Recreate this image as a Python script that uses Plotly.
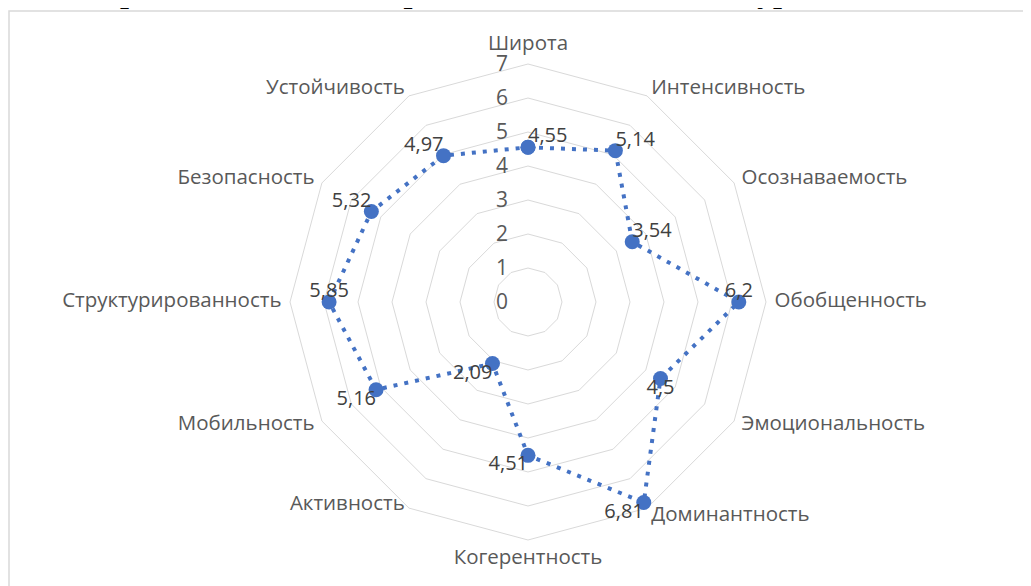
import plotly.graph_objects as go

categories = ["Широта", "Интенсивность", "Осознаваемость", "Обобщенность",
              "Эмоциональность", "Доминантность", "Когерентность", "Активность",
              "Мобильность", "Структурированность", "Безопасность", "Устойчивость"]
values = [4.55, 5.14, 3.54, 6.2, 4.5, 6.81, 4.51, 2.09, 5.16, 5.85, 5.32, 4.97]
label_positions = ["top right", "top right", "top right", "top center",
                   "bottom center", "bottom left", "bottom left", "bottom left",
                   "bottom left", "top center", "top left", "top left"]
category_label_positions = ["top center", "middle right", "middle right", "middle right",
                            "middle right", "middle right", "bottom center", "top left",
                            "middle left", "middle left", "middle left", "middle left"]
radial_ticks = [0, 1, 2, 3, 4, 5, 6, 7]
title_text = "Сравнительный обзор модели и идеального курса"

BLUE = "#4472C4"
GRID = "#d9d9d9"
TXT = "#595959"
FONT = "Open Sans"
LABEL_R = 7.25          # radius where the category names sit (just outside ring 7)

fig = go.Figure()

fig.add_trace(go.Scatterpolar(
    r=values + values[:1],
    theta=categories + categories[:1],
    mode="lines+markers",
    line=dict(color=BLUE, width=4, dash="4px,7px"),
    marker=dict(color=BLUE, size=15),
    hoverinfo="skip",
    showlegend=False,
))

fig.add_trace(go.Scatterpolar(
    r=values,
    theta=categories,
    mode="text",
    text=[f"{v:g}".replace(".", ",") for v in values],
    textposition=label_positions,
    textfont=dict(family=FONT, size=20, color="#404040"),
    hoverinfo="skip",
    showlegend=False,
))

# category labels placed like Excel does (beside the outer ring vertices)
fig.add_trace(go.Scatterpolar(
    r=[LABEL_R] * len(categories),
    theta=categories,
    mode="text",
    text=categories,
    textposition=category_label_positions,
    textfont=dict(family=FONT, size=20.5, color=TXT),
    cliponaxis=False,
    hoverinfo="skip",
    showlegend=False,
))

# the page body adds an 8px offset; positions below are in figure pixels
W, H = 1031, 586
cx, cy, unit = 520, 294, 34
R = unit * LABEL_R

fig.update_layout(
    width=W, height=H,
    margin=dict(l=0, r=0, t=0, b=0),
    paper_bgcolor="white",
    plot_bgcolor="white",
    showlegend=False,
    polar=dict(
        domain=dict(x=[(cx - R) / W, (cx + R) / W],
                    y=[(H - cy - R) / H, (H - cy + R) / H]),
        bgcolor="rgba(0,0,0,0)",
        gridshape="linear",
        radialaxis=dict(
            range=[0, LABEL_R],
            tickvals=radial_ticks,
            ticktext=[f"{t}\u00a0\u00a0\u00a0" for t in radial_ticks],
            angle=90,
            tickangle=90,
            side="counterclockwise",
            showline=False,
            ticks="",
            gridcolor=GRID,
            gridwidth=1.3,
            tickfont=dict(family=FONT, size=21, color=TXT),
        ),
        angularaxis=dict(
            direction="clockwise",
            rotation=90,
            showgrid=False,
            showline=False,
            ticks="",
            showticklabels=False,
        ),
    ),
    shapes=[dict(type="rect", xref="paper", yref="paper",
                 x0=1 / W, x1=1.05, y0=-0.05, y1=1 - 3 / H,
                 line=dict(color=GRID, width=1.5), fillcolor="rgba(0,0,0,0)",
                 layer="below")],
    annotations=[dict(text=f"<b>{title_text}</b>", xref="paper", yref="paper",
                      x=87 / W, y=1, xanchor="left", yanchor="bottom",
                      yshift=-3, showarrow=False,
                      font=dict(family="Liberation Serif", size=32, color="black"))],
)

fig.write_html("out.html")
